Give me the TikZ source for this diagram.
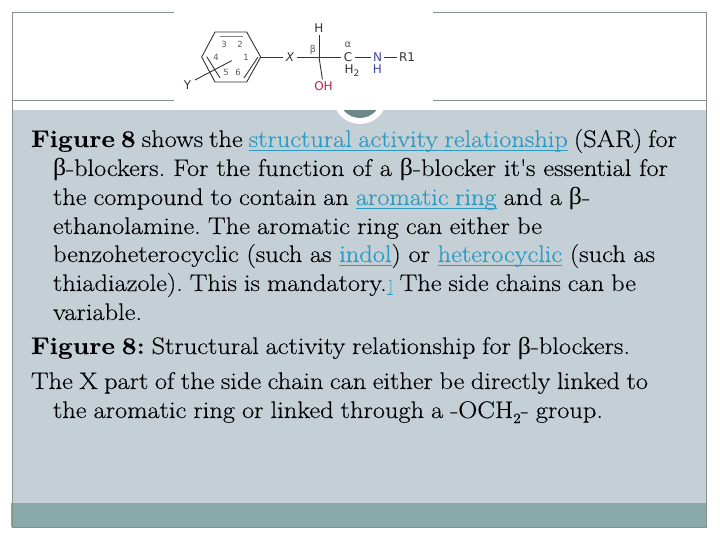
\documentclass[tikz,border=0pt]{standalone}
\usepackage{fontspec}
\setmainfont[FakeStretch=1.1,FakeBold=0.25]{Latin Modern Roman}
\newfontfamily\molfont{DejaVu Sans}
\newfontfamily\grk[Scale=1.02,FakeStretch=1.05]{Liberation Serif}
\definecolor{framec}{HTML}{84908F}
\definecolor{panelc}{HTML}{C4CFD6}
\definecolor{barc}{HTML}{8AAAAA}
\definecolor{lnk}{HTML}{2A9CC4}
\definecolor{molc}{HTML}{333333}
\definecolor{ohc}{HTML}{B0284A}
\definecolor{nhc}{HTML}{3F4A94}
\newcommand\lnk[1]{\leavevmode\setbox0\hbox{#1}\rlap{\color{lnk}\rule[-4.4pt]{\wd0}{1.7pt}}{\color{lnk}\box0}}
\newcommand\bet{{\grk β}}
\newcommand\sbt[1]{\raisebox{-5pt}{\fontsize{14}{15}\selectfont #1}}
\newcommand\tightwords{\frenchspacing\spaceskip=0.27em plus 1em minus 0.12em\relax}
\newcommand\fitline[2]{\hbox to #1pt{#2}}
\tikzset{
  txt/.style={anchor=base west,inner sep=0pt,outer sep=0pt,font=\fontsize{24}{26}\selectfont,text=black,execute at begin node=\tightwords},
  mol/.style={inner sep=0pt,outer sep=2.5pt,font=\molfont\fontsize{12}{14}\selectfont,text=molc},
  num/.style={inner sep=0pt,font=\molfont\fontsize{8.5}{10}\selectfont,text=molc!80!white},
  bond/.style={draw=molc,line width=0.9pt},
}
\begin{document}
\begin{tikzpicture}[x=1pt,y=-1pt]
\useasboundingbox (0,0) rectangle (720,540);
\fill[white] (0,0) rectangle (720,540);
\fill[panelc] (12,110) rectangle (707,503);
\fill[barc] (11,503) rectangle (707,527);
\draw[framec,line width=1pt] (12.5,12.5) rectangle (706.5,527);
\draw[framec,line width=1pt] (12,100.5) -- (707,100.5);
\fill[white] (360,97) circle (27);
\fill[barc!80!black] (360,97) circle (21);
\fill[white] (174,0) rectangle (433,110);
% molecule
\coordinate (r1) at (215,32);\coordinate (r2) at (246.7,32);\coordinate (r3) at (260.7,57);
\coordinate (r4) at (246.7,82);\coordinate (r5) at (215,82);\coordinate (r6) at (201.7,57);
\draw[bond] (r1)--(r2)--(r3)--(r4)--(r5)--(r6)--cycle;
\draw[bond,draw=gray] (220,36.5)--(243,36.5);
\draw[bond] (258,57)--(244,78);
\draw[bond] (206.7,56.7)--(220,78);
\draw[bond] (195,80) -- (231.7,60.7);
\node[mol] (Y) at (187.5,85.5) {Y};
\node[mol,font=\molfont\itshape\fontsize{12}{14}\selectfont] (X) at (290,57) {X};
\node[mol] (H) at (319,28) {H};
\coordinate (ctr) at (319,57);
\node[mol] (C) at (348,57) {C};
\node[mol] (H2) at (352,70.5) {H\raisebox{-3pt}{\fontsize{9}{10}\selectfont 2}};
\node[mol,text=nhc] (N) at (377.5,57) {N};
\node[mol,text=nhc] (NH) at (377.5,69) {H};
\node[mol] (R) at (407,57) {R1};
\node[mol,text=ohc] (OH) at (323.5,86.5) {OH};
\node[num,font=\molfont\fontsize{10}{11}\selectfont] (alpha) at (348,45) {α};
\node[num,font=\molfont\fontsize{9.5}{11}\selectfont] (beta) at (313,50) {β};
\foreach \t/\a/\b in {3/224/44,2/240/44,4/216/57,1/246/57,5/226/72.7,6/238/72.7}
  \node[num] (n\t) at (\a,\b) {\t};
\draw[bond] (r3) -- (X);
\draw[bond] (X) -- (ctr);
\draw[bond] (H) -- (ctr);
\draw[bond] (ctr) -- (OH);
\draw[bond] (ctr) -- (C);
\draw[bond] (C) -- (N);
\draw[bond] (N) -- (R);
% text
\node[txt] (l1) at (31,147) {\fitline{646}{\textbf{Figure 8} shows the \lnk{structural activity relationship} (SAR) for}};
\node[txt] (l2) at (53,176) {\fitline{615}{\bet-blockers. For the function of a \bet-blocker it\textquotesingle s essential for}};
\node[txt] (l3) at (53,205) {\fitline{537}{the compound to contain an \lnk{aromatic ring} and a \bet-}};
\node[txt] (l4) at (53,234) {\fitline{489}{ethanolamine. The aromatic ring can either be}};
\node[txt] (l5) at (53,262) {\fitline{602}{benzoheterocyclic (such as \lnk{indol}) or \lnk{heterocyclic} (such as}};
\node[txt] (l6) at (53,291) {\fitline{583}{thiadiazole). This is mandatory.\lnk{\raisebox{1pt}{\fontsize{13}{14}\selectfont\,]}} The side chains can be}};
\node[txt] (l7) at (53,320) {variable.};
\node[txt] (l8) at (31,354) {\fitline{599}{\textbf{Figure 8:} Structural activity relationship for \bet-blockers.}};
\node[txt] (l9) at (31,389) {\fitline{617}{The X part of the side chain can either be directly linked to}};
\node[txt] (l10) at (53,418) {\fitline{550}{the aromatic ring or linked through a -OCH\sbt{2}- group.}};
\end{tikzpicture}
\end{document}
